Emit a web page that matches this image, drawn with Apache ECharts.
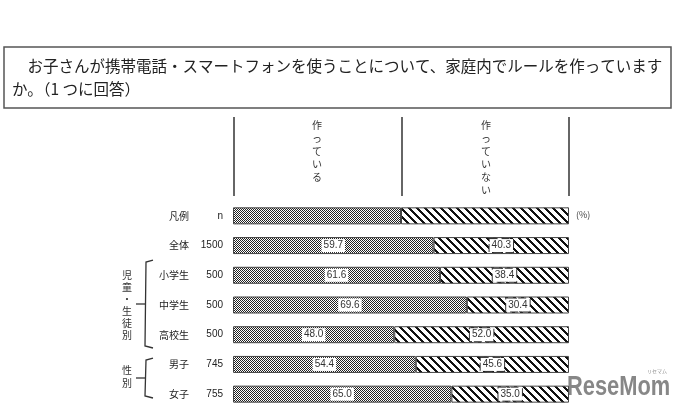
<!DOCTYPE html>
<html><head><meta charset="utf-8">
<script src="https://cdn.jsdelivr.net/npm/echarts@6/dist/echarts.min.js"></script>
<style>html,body{margin:0;padding:0;background:#fff}#c{width:678px;height:411px}</style>
</head><body><div id="c"></div>
<script>
const categories = ['凡例', '全体', '小学生', '中学生', '高校生', '男子', '女子'];
const nValues = ['n', '1500', '500', '500', '500', '745', '755'];
const makingRules = [50, 59.7, 61.6, 69.6, 48.0, 54.4, 65.0];
const notMakingRules = [50, 40.3, 38.4, 30.4, 52.0, 45.6, 35.0];
const seriesNames = ['作っている', '作っていない'];
const titleLine1 = '　お子さんが携帯電話・スマートフォンを使うことについて、家庭内でルールを作っています';
const titleLine2 = 'か。（1 つに回答）';
const groupLabels = ['児童・生徒別', '性別'];

const FONT = '"Noto Sans CJK JP", "Noto Sans", sans-serif';

function checker() {
  const c = document.createElement('canvas'); c.width = 2; c.height = 2;
  const g = c.getContext('2d');
  g.fillStyle = '#fff'; g.fillRect(0, 0, 2, 2);
  g.fillStyle = '#222'; g.fillRect(0, 0, 1, 1); g.fillRect(1, 1, 1, 1);
  return c;
}
function stripes() {
  const c = document.createElement('canvas'); c.width = 8; c.height = 8;
  const g = c.getContext('2d');
  g.fillStyle = '#fff'; g.fillRect(0, 0, 8, 8);
  g.fillStyle = '#111';
  for (let y = 0; y < 8; y++) for (let x = 0; x < 8; x++) {
    if (((x - y + 16) % 8) < 3) g.fillRect(x, y, 1, 1);
  }
  return c;
}

const chart = echarts.init(document.getElementById('c'), null, {renderer: 'canvas'});

function vtext(str) { return str.split('').join('\n'); }

function labelFor(dashed) {
  return {
    show: true,
    position: 'inside',
    formatter: p => Number(p.value).toFixed(1),
    fontSize: 10,
    fontFamily: 'Liberation Sans, Arial, sans-serif',
    color: '#333',
    backgroundColor: '#fff',
    padding: [2, 2, 1, 2],
    borderColor: dashed ? '#333' : 'transparent',
    borderWidth: dashed ? 1 : 0,
    borderType: 'dashed'
  };
}
function toData(arr) {
  return arr.map((v, i) => i === 0 ? {value: v, label: {show: false}} : v);
}

const option = {
  animation: false,
  grid: {left: 233, right: 109, top: 201, height: 208, containLabel: false},
  xAxis: {type: 'value', min: 0, max: 100, show: false},
  yAxis: {
    type: 'category', data: categories, inverse: true,
    axisLine: {show: false}, axisTick: {show: false}, splitLine: {show: false},
    axisLabel: {
      margin: 10,
      formatter: (v, i) => '{a|' + v + '}{b|' + nValues[i] + '}',
      rich: {
        a: {fontSize: 10, color: '#222', fontFamily: FONT},
        b: {fontSize: 10, color: '#222', width: 34, align: 'right', fontFamily: 'Liberation Sans, Arial, sans-serif'}
      }
    }
  },
  series: [
    {
      name: seriesNames[0], type: 'bar', stack: 'a', barWidth: 17,
      data: toData(makingRules),
      itemStyle: {color: {image: checker(), repeat: 'repeat'}, borderColor: '#444', borderWidth: 1},
      label: labelFor(false)
    },
    {
      name: seriesNames[1], type: 'bar', stack: 'a', barWidth: 17,
      data: toData(notMakingRules),
      itemStyle: {color: {image: stripes(), repeat: 'repeat'}, borderColor: '#444', borderWidth: 1},
      label: labelFor(true)
    }
  ],
  graphic: [
    {type: 'rect', shape: {x: 4, y: 47, width: 667, height: 61}, style: {fill: 'none', stroke: '#555', lineWidth: 1.5}},
    {type: 'text', left: 12, top: 58, style: {text: titleLine1, font: '15.5px ' + FONT, fill: '#222'}},
    {type: 'text', left: 12, top: 81, style: {text: titleLine2, font: '15.5px ' + FONT, fill: '#222'}},
    {type: 'line', shape: {x1: 234, y1: 117, x2: 234, y2: 196}, style: {stroke: '#333', lineWidth: 1.5}},
    {type: 'line', shape: {x1: 402, y1: 117, x2: 402, y2: 196}, style: {stroke: '#333', lineWidth: 1.5}},
    {type: 'line', shape: {x1: 569, y1: 117, x2: 569, y2: 196}, style: {stroke: '#333', lineWidth: 1.5}},
    {type: 'text', x: 317, y: 119, style: {text: vtext(seriesNames[0]), font: '10px ' + FONT, fill: '#333', align: 'center', lineHeight: 13}},
    {type: 'text', x: 486, y: 119, style: {text: vtext(seriesNames[1]), font: '10px ' + FONT, fill: '#333', align: 'center', lineHeight: 13}},
    {type: 'text', x: 576, y: 210, style: {text: '(%)', font: '9px ' + FONT, fill: '#444'}},
    {type: 'polyline', shape: {points: [[153, 260], [146, 262], [145, 346], [153, 348]]}, style: {stroke: '#333', lineWidth: 1.3, fill: 'none'}},
    {type: 'line', shape: {x1: 136, y1: 304, x2: 145, y2: 304}, style: {stroke: '#333', lineWidth: 1.3}},
    {type: 'polyline', shape: {points: [[153, 358], [146, 360], [145, 396], [153, 398]]}, style: {stroke: '#333', lineWidth: 1.3, fill: 'none'}},
    {type: 'line', shape: {x1: 136, y1: 378, x2: 145, y2: 378}, style: {stroke: '#333', lineWidth: 1.3}},
    {type: 'text', x: 127, y: 269, style: {text: vtext(groupLabels[0]), font: '10px ' + FONT, fill: '#333', align: 'center', lineHeight: 12}},
    {type: 'text', x: 127, y: 364, style: {text: vtext(groupLabels[1]), font: '10px ' + FONT, fill: '#333', align: 'center', lineHeight: 13}},
    {type: 'text', x: 567, y: 373, scaleX: 0.78, style: {text: 'ReseMom', font: 'bold 28px "Liberation Sans", Arial, sans-serif', fill: 'rgba(105,105,105,0.8)'}},
    {type: 'text', x: 647, y: 369, style: {text: 'リセマム', font: '5px ' + FONT, fill: 'rgba(110,110,110,0.8)'}}
  ]
};
chart.setOption(option);
</script>
</body></html>
